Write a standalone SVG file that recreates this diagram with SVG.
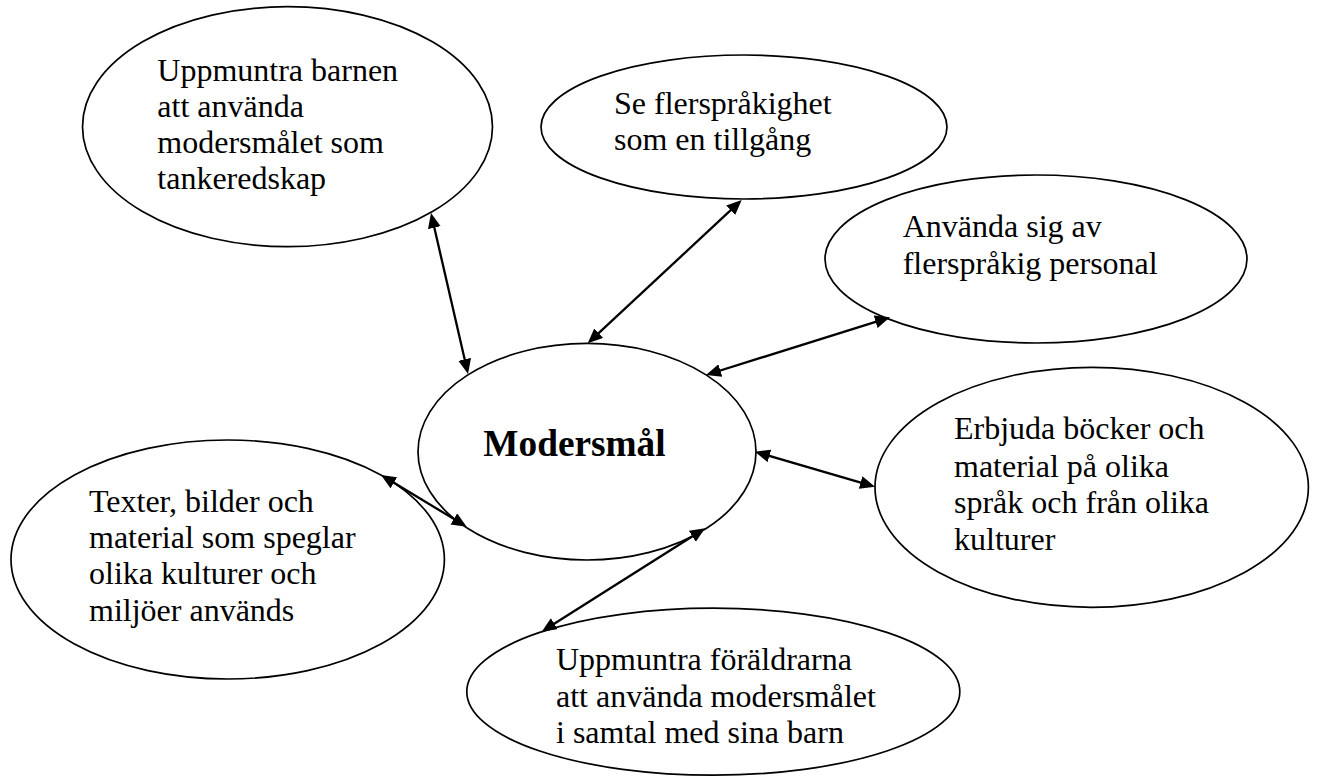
<svg xmlns="http://www.w3.org/2000/svg" width="1317" height="778" viewBox="0 0 1317 778">
  <style>
    .bubble { fill: none; stroke: #000; stroke-width: 1.7; }
    .label { font-family: "Liberation Serif", "Times New Roman", serif; font-size: 32px; fill: #000; }
    .title { font-family: "Liberation Serif", "Times New Roman", serif; font-size: 37.3px; font-weight: bold; fill: #000; }
    .link { fill: none; stroke: #000; stroke-width: 2.3; marker-start: url(#head); marker-end: url(#head); }
  </style>
  <defs>
    <!-- filled triangular head, tip placed 5px past each line end -->
    <marker id="head" markerUnits="userSpaceOnUse" markerWidth="15" markerHeight="13" refX="10" refY="6.5" orient="auto-start-reverse">
      <path d="M0,0 L15,6.5 L0,13 z" fill="#000"/>
    </marker>
  </defs>
  <rect width="1317" height="778" fill="#fff"/>

  <g id="connectors">
    <line class="link" x1="432.1" y1="217.9" x2="466.9" y2="369.1"/>
    <line class="link" x1="738.0" y1="203.4" x2="591.4" y2="339.9"/>
    <line class="link" x1="885.2" y1="318.8" x2="710.8" y2="373.5"/>
    <line class="link" x1="759.8" y1="453.1" x2="870.2" y2="485.3"/>
    <line class="link" x1="385.3" y1="477.6" x2="462.4" y2="524.1"/>
    <line class="link" x1="700.8" y1="531.0" x2="545.9" y2="629.0"/>
  </g>

  <g id="node-barnen">
    <ellipse class="bubble" cx="287.5" cy="126.7" rx="205" ry="120"/>
    <text class="label" x="157.3" y="81">Uppmuntra barnen</text>
    <text class="label" x="157.3" y="117">att använda</text>
    <text class="label" x="157.3" y="153">modersmålet som</text>
    <text class="label" x="157.3" y="189">tankeredskap</text>
  </g>

  <g id="node-tillgang">
    <ellipse class="bubble" cx="744" cy="127" rx="203" ry="72"/>
    <text class="label" x="614" y="114">Se flerspråkighet</text>
    <text class="label" x="614" y="150">som en tillgång</text>
  </g>

  <g id="node-personal">
    <ellipse class="bubble" cx="1036" cy="259" rx="211" ry="84"/>
    <text class="label" x="902.7" y="237">Använda sig av</text>
    <text class="label" x="902.7" y="274">flerspråkig personal</text>
  </g>

  <g id="node-modersmal">
    <ellipse class="bubble" cx="587" cy="451.7" rx="169" ry="108.3"/>
    <text class="title" x="483.3" y="456">Modersmål</text>
  </g>

  <g id="node-bocker">
    <ellipse class="bubble" cx="1091.7" cy="487.3" rx="216.7" ry="120"/>
    <text class="label" x="954" y="439.3">Erbjuda böcker och</text>
    <text class="label" x="954" y="476.7">material på olika</text>
    <text class="label" x="954" y="513.3">språk och från olika</text>
    <text class="label" x="954" y="550">kulturer</text>
  </g>

  <g id="node-texter">
    <ellipse class="bubble" cx="227.7" cy="559.5" rx="216.7" ry="119.5"/>
    <text class="label" x="89" y="511.7">Texter, bilder och</text>
    <text class="label" x="89" y="548.3">material som speglar</text>
    <text class="label" x="89" y="584">olika kulturer och</text>
    <text class="label" x="89" y="620.7">miljöer används</text>
  </g>

  <g id="node-foraldrar">
    <ellipse class="bubble" cx="713.3" cy="691.7" rx="246.5" ry="83.5"/>
    <text class="label" x="556" y="670">Uppmuntra föräldrarna</text>
    <text class="label" x="556" y="706.7">att använda modersmålet</text>
    <text class="label" x="556" y="743.3">i samtal med sina barn</text>
  </g>
</svg>
